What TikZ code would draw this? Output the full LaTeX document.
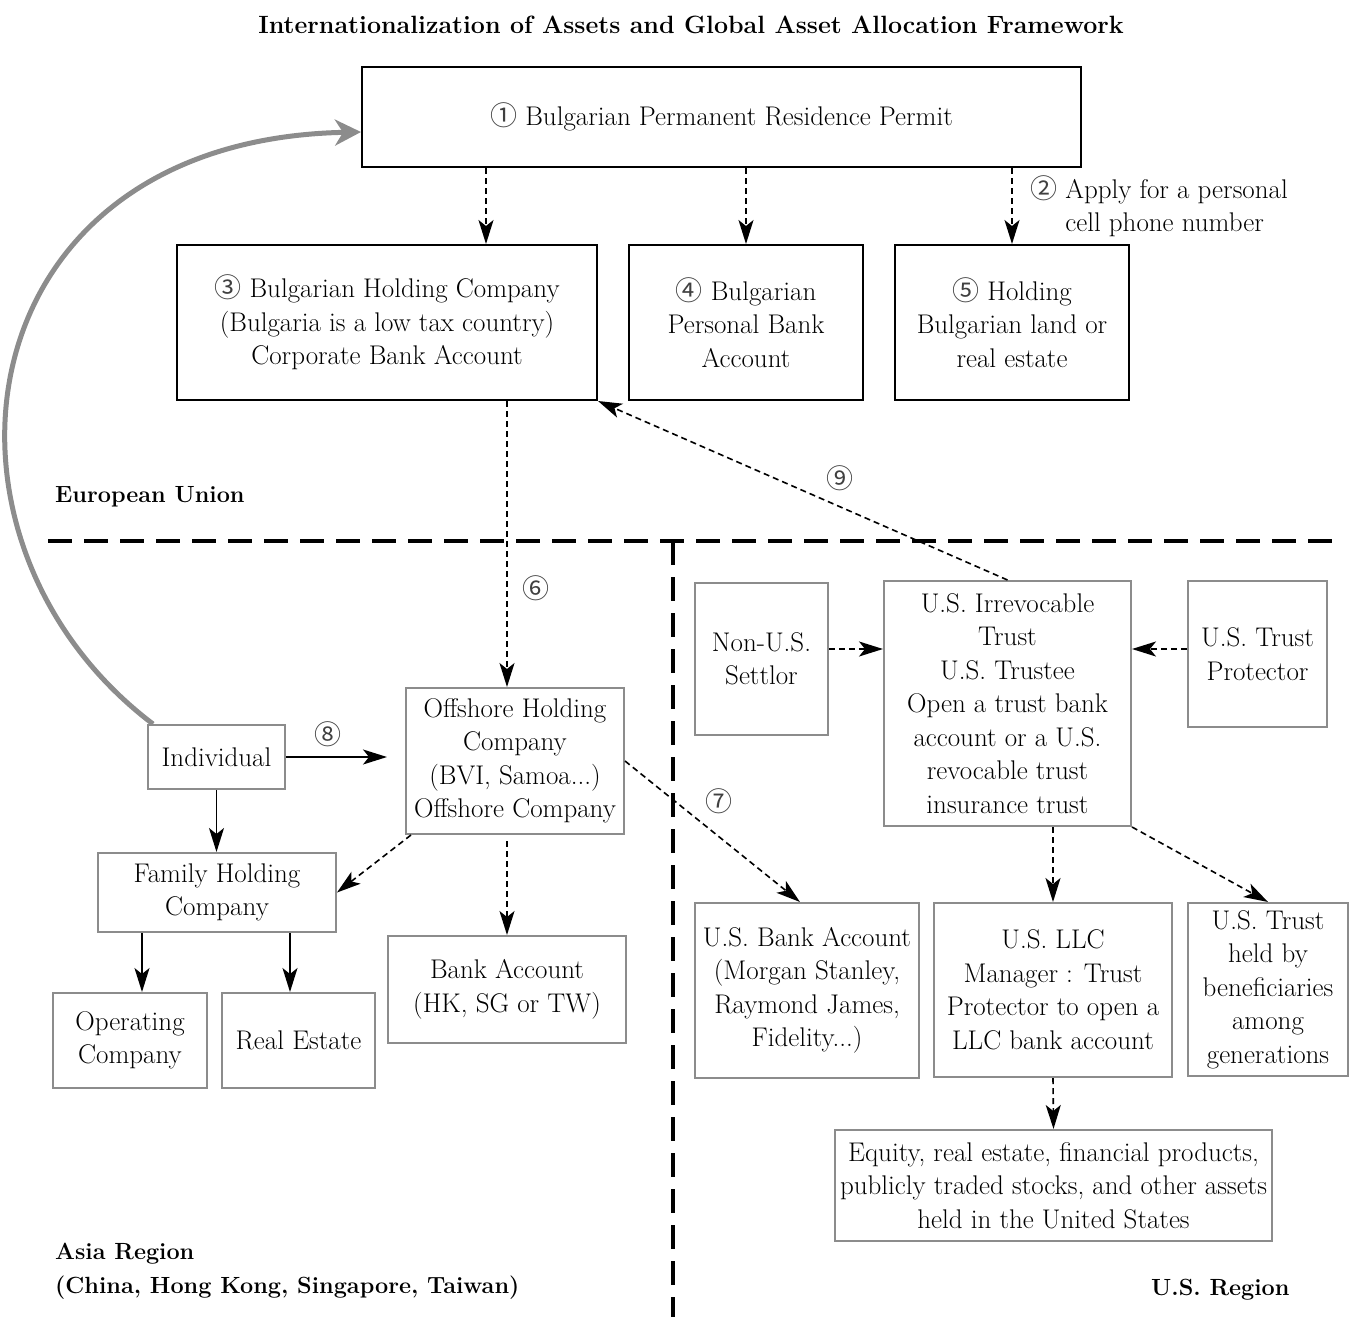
\documentclass[tikz,border=0pt]{standalone}
\usepackage{fontspec}
\newfontfamily\circfont{Noto Sans CJK SC}
\usetikzlibrary{arrows.meta,calc}
\definecolor{boxgray}{gray}{0.55}
\newcommand{\bodyfont}{\fontsize{27}{33.5}\selectfont}
\newcommand{\regionfont}{\fontsize{23.4}{34}\selectfont\bfseries}
\newcommand{\titlefont}{\fontsize{25}{30}\selectfont\bfseries}
\newcommand{\cnum}[1]{{\circfont\color{black!75}#1}}

\tikzset{
  eubox/.style={draw=black, line width=2pt, align=center, inner sep=0pt, font=\bodyfont},
  asbox/.style={eubox, draw=boxgray},
  flow/.style={-{Stealth[length=24pt,width=15pt,inset=6pt]}, line width=1.6pt},
  dflow/.style={flow, dash pattern=on 6pt off 4pt},
  divider/.style={line width=4pt, dash pattern=on 24pt off 12pt}
}

\begin{document}
\begin{tikzpicture}[x=1pt, y=-1pt]
  \useasboundingbox (0,0) rectangle (1350,1317);
  \node[font=\titlefont] (title) at (691,25) {Internationalization of Assets and Global Asset Allocation Framework};

  % European Union
  \node[eubox, minimum width=719pt, minimum height=100pt] (permit) at (721.5,117) {\cnum{①} Bulgarian Permanent Residence Permit};
  \node[eubox, minimum width=420pt, minimum height=155pt] (bgholding) at (387,322.5)
    {\cnum{③} Bulgarian Holding Company\\(Bulgaria is a low tax country)\\Corporate Bank Account};
  \node[eubox, minimum width=234pt, minimum height=155pt] (bgbank) at (746,322.5)
    {\cnum{④} Bulgarian\\Personal Bank\\Account};
  \node[eubox, minimum width=234pt, minimum height=155pt] (bgland) at (1012,322.5)
    {\cnum{⑤} Holding\\Bulgarian land or\\real estate};
  \node[font=\bodyfont, anchor=west, align=left, inner sep=0pt] (phone) at (1030,206)
    {\cnum{②} Apply for a personal\\\phantom{\cnum{②} }cell phone number};
  \node[font=\regionfont, anchor=west, inner sep=0pt] (eulabel) at (55,497) {European Union};

  \coordinate (holdin) at ($(bgholding.north)+(99,0)$);
  \coordinate (holdout) at ($(bgholding.south)+(120,0)$);
  \draw[dflow] (permit.south -| holdin) -- (holdin);
  \draw[dflow] (permit.south -| bgbank.north) -- (bgbank.north);
  \draw[dflow] (permit.south -| bgland.north) -- (bgland.north);

  % region borders
  \draw[divider] (48,541) -- (1340,541);
  \draw[divider] (673,541) -- (673,1317);

  % Asia Region
  \node[asbox, minimum width=137pt, minimum height=64pt] (individual) at (216.5,757) {Individual};
  \node[asbox, minimum width=218pt, minimum height=146pt] (offshore) at (515,761)
    {Offshore Holding\\Company\\(BVI, Samoa...)\\Offshore Company};
  \node[asbox, minimum width=238pt, minimum height=79pt] (family) at (217,892.5) {Family Holding\\Company};
  \node[asbox, minimum width=154pt, minimum height=95pt] (operating) at (130,1040.5) {Operating\\Company};
  \node[asbox, minimum width=153pt, minimum height=95pt] (realestate) at (298.5,1040.5) {Real Estate};
  \node[asbox, minimum width=238pt, minimum height=107pt] (asiabank) at (507,989.5) {Bank Account\\(HK, SG or TW)};
  \node[font=\regionfont, anchor=west, align=left, inner sep=0pt] (asialabel) at (55,1271)
    {Asia Region\\(China, Hong Kong, Singapore, Taiwan)};

  % U.S. Region
  \node[asbox, minimum width=133pt, minimum height=152pt] (settlor) at (761.5,659) {Non-U.S.\\Settlor};
  \node[asbox, minimum width=247pt, minimum height=245pt] (irrtrust) at (1007.5,703.5)
    {U.S. Irrevocable\\Trust\\U.S. Trustee\\Open a trust bank\\account or a U.S.\\revocable trust\\insurance trust};
  \node[asbox, minimum width=139pt, minimum height=146pt] (protector) at (1257.5,654) {U.S. Trust\\Protector};
  \node[asbox, minimum width=224pt, minimum height=175pt] (usbank) at (807,990.5)
    {U.S. Bank Account\\(Morgan Stanley,\\Raymond James,\\Fidelity...)};
  \node[asbox, minimum width=238pt, minimum height=174pt] (llc) at (1053,990)
    {U.S. LLC\\Manager : Trust\\Protector to open a\\LLC bank account};
  \node[asbox, minimum width=160pt, minimum height=173pt] (heirs) at (1268,989.5)
    {U.S. Trust\\held by\\beneficiaries\\among\\generations};
  \node[asbox, minimum width=437pt, minimum height=111pt] (usassets) at (1053.5,1185.5)
    {Equity, real estate, financial products,\\publicly traded stocks, and other assets\\held in the United States};
  \node[font=\regionfont, anchor=west, inner sep=0pt] (uslabel) at (1151,1290) {U.S. Region};

  % flows
  \draw[dflow] (holdout) -- (offshore.north -| holdout);
  \node[font=\bodyfont] (lab6) at (536,588) {\cnum{⑥}};
  \draw[dflow] (irrtrust.north) -- (bgholding.south east);
  \node[font=\bodyfont] (lab9) at (840,478) {\cnum{⑨}};
  \draw[flow, shorten >=18pt] (individual.east) -- (individual.east -| offshore.west);
  \node[font=\bodyfont] (lab8) at (328,734) {\cnum{⑧}};
  \draw[dflow] ([xshift=6pt]offshore.south west) -- (family.east);
  \draw[dflow] (offshore.east) -- ([xshift=-7pt]usbank.north);
  \node[font=\bodyfont] (lab7) at (719,801) {\cnum{⑦}};
  \draw[flow] (individual.south) -- (individual.south |- family.north);
  \coordinate (famleft) at ($(family.south west)+(45,0)$);
  \coordinate (famright) at ($(family.south east)+(-47,0)$);
  \draw[flow] (famleft) -- (operating.north -| famleft);
  \draw[flow] (famright) -- (realestate.north -| famright);
  \draw[dflow, shorten <=6pt] (offshore.south -| asiabank.north) -- (asiabank.north);

  \draw[dflow] ([yshift=10pt]settlor.east) -- ([yshift=10pt]settlor.east -| irrtrust.west);
  \draw[dflow] ([yshift=5pt]protector.west) -- ([yshift=5pt]protector.west -| irrtrust.east);
  \draw[dflow] (irrtrust.south -| llc.north) -- (llc.north);
  \draw[dflow] (irrtrust.south east) -- (heirs.north);
  \draw[dflow] (llc.south) -- (usassets.north);

  % back to the permit
  \draw[boxgray, line width=5pt, -{Stealth[length=26pt,width=26pt,inset=8pt]}]
    ([xshift=6pt]individual.north west) .. controls (-90,540) and (-40,140) .. ([yshift=-15pt]permit.west);
\end{tikzpicture}
\end{document}
